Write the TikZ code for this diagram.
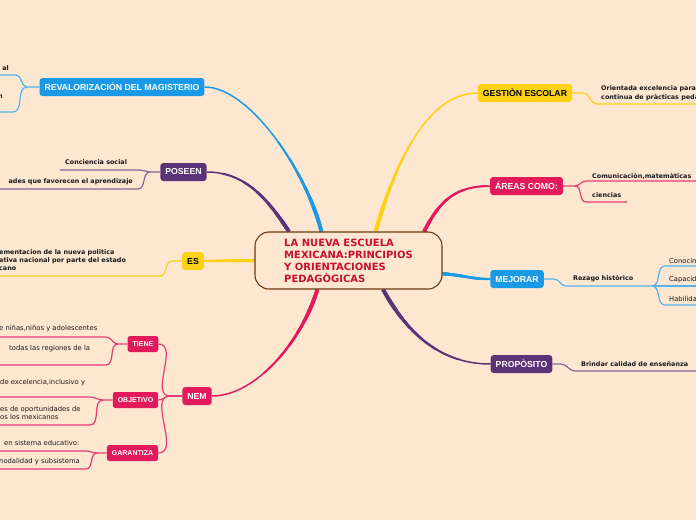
\documentclass[tikz,border=0pt]{standalone}
\usepackage{fontspec}
\usepackage{xcolor}
\usepackage{tikz}
\usetikzlibrary{positioning,backgrounds}
\newfontfamily\arialf{Liberation Sans}
\newfontfamily\verdf{DejaVu Sans}
\definecolor{fond}{RGB}{253,231,209}
\definecolor{bleu}{RGB}{26,154,230}
\definecolor{mauve}{RGB}{92,51,121}
\definecolor{jaune}{RGB}{252,209,22}
\definecolor{framb}{RGB}{226,26,92}
\definecolor{rougec}{RGB}{200,16,46}
\definecolor{brun}{RGB}{105,58,18}
\definecolor{encre}{RGB}{25,25,25}
% les huit grosses branches, a une epaisseur donnee
\newcommand{\tiges}[1]{%
  \draw[line width=#1, bleu]  (cen.133) .. controls +(-15,-60) and +(45,0) .. (reval.east);
  \draw[line width=#1, mauve] (cen.154) .. controls +(-20,-30) and +(40,0) .. (poseen.east);
  \draw[line width=#1, jaune] (cen.180) -- (es.east);
  \draw[line width=#1, framb] (cen.223) .. controls +(-15,50) and +(45,0) .. (nem.east);
  \draw[line width=#1, jaune] (cen.47) .. controls +(20,-70) and +(-50,0) .. (gestion.west);
  \draw[line width=#1, framb] (cen.21) .. controls +(15,-30) and +(-35,0) .. (areas.west);
  \draw[line width=#1, bleu]  (cen.352) .. controls +(25,2) and +(-20,0) .. (mejorar.west);
  \draw[line width=#1, mauve] (cen.320) .. controls +(30,55) and +(-40,0) .. (proposito.west);
}

\begin{document}
\begin{tikzpicture}[x=1pt, y=-1pt,
  b/.style 2 args={rectangle, rounded corners=3pt, fill=#1, text=#2, inner xsep=5pt, inner ysep=0pt,
                   minimum height=18pt, font=\arialf\bfseries\fontsize{8.7}{10}\selectfont},
  bs/.style={rectangle, rounded corners=2.5pt, fill=framb, text=white, inner xsep=5pt, inner ysep=0pt,
             minimum height=16pt, font=\arialf\bfseries\fontsize{7}{8}\selectfont},
  tb/.style={inner sep=0pt, align=left, text=encre, font=\verdf\bfseries\fontsize{6.4}{8}\selectfont},
  tn/.style={inner sep=0pt, align=left, text=encre, font=\verdf\fontsize{6.8}{8}\selectfont},
  lk/.style={line width=1.2pt, draw=#1}]

\useasboundingbox (0,0) rectangle (696,520);
\begin{scope}[on background layer]
  \fill[fond] (0,0) rectangle (696,520);
\end{scope}
\clip (0,0) rectangle (696,520);

% noeud central
\node[draw=brun, line width=1.1pt, fill=fond, rounded corners=14pt, minimum width=187pt, minimum height=57pt,
      align=left, text=rougec, font=\verdf\bfseries\fontsize{10}{12}\selectfont] (cen) at (348.5,260.5)
  {LA NUEVA ESCUELA\\MEXICANA:PRINCIPIOS\\Y ORIENTACIONES\\PEDAGÒGICAS};

% ── branches principales ──
\node[b={bleu}{white}] (reval) at (122,87) {REVALORIZACIÓN DEL MAGISTERIO};
\node[b={mauve}{white}] (poseen) at (183.5,172) {POSEEN};
\node[b={jaune}{black}] (es) at (193,261) {ES};
\node[b={framb}{white}] (nem) at (197,396) {NEM};
\node[bs] (tiene) at (143,344) {TIENE};
\node[bs] (objetivo) at (135.5,400) {OBJETIVO};
\node[bs] (garantiza) at (132.5,453) {GARANTIZA};
\node[b={jaune}{black}] (gestion) at (525,93) {GESTIÒN ESCOLAR};
\node[b={framb}{white}] (areas) at (526.5,186) {ÁREAS COMO:};
\node[b={bleu}{white}] (mejorar) at (517,279) {MEJORAR};
\node[b={mauve}{white}] (proposito) at (521.5,364) {PROPÒSITO};

% branches effilees : plus epaisses pres du centre
\begin{scope}[on background layer]
  \tiges{1.5pt}
  \foreach \w/\rx/\ry in {1.9/170/130, 2.3/150/110, 2.7/132/94, 3.1/116/80, 3.5/102/68, 3.9/92/58} {
    \begin{scope}
      \clip (cen) ellipse [x radius=\rx, y radius=\ry];
      \tiges{\w pt}
    \end{scope}
  }
\end{scope}

% ── points de branchement et soulignes ──
\coordinate (rvb) at (27,87);  \coordinate (r1b) at (16,75);  \coordinate (r1a) at (0,75);
\coordinate (r2b) at (13,112); \coordinate (r2a) at (0,112);
\coordinate (psb) at (150,172); \coordinate (p1b) at (140,170); \coordinate (p1a) at (60,170);
\coordinate (p2b) at (138,189); \coordinate (p2a) at (0,189);
\coordinate (esb) at (172,261); \coordinate (e1b) at (160,276); \coordinate (e1a) at (0,276);
\coordinate (nmb) at (170,396);
\coordinate (tib) at (118,344); \coordinate (t1b) at (106,337); \coordinate (t1a) at (0,337);
\coordinate (t2b) at (106,365); \coordinate (t2a) at (0,365);
\coordinate (obb) at (103,400); \coordinate (o1b) at (90,397); \coordinate (o1a) at (0,397);
\coordinate (o2b) at (90,425);  \coordinate (o2a) at (0,425);
\coordinate (gab) at (97,453);  \coordinate (g1b) at (86,451); \coordinate (g1a) at (0,451);
\coordinate (g2b) at (86,469);  \coordinate (g2a) at (0,469);
\coordinate (geb) at (583,93);  \coordinate (ge1b) at (597,104); \coordinate (ge1a) at (696,104);
\coordinate (arb) at (575,186); \coordinate (a1b) at (586,181); \coordinate (a1a) at (696,181);
\coordinate (a2b) at (586,202); \coordinate (a2a) at (627,202);
\coordinate (mjb) at (554,279); \coordinate (m1b) at (566,286); \coordinate (m1a) at (652,286);
\coordinate (k1b) at (665,266); \coordinate (k1a) at (696,266); \coordinate (k2a) at (696,286);
\coordinate (k3b) at (665,305); \coordinate (k3a) at (696,305);
\coordinate (prb) at (561,364); \coordinate (pr1b) at (575,371); \coordinate (pr1a) at (696,371);

% ── gauche ──
\draw[lk=bleu!75] (reval.west) -- (rvb) to[out=180,in=0] (r1b) -- (r1a);
\draw[lk=bleu!75] (rvb) to[out=180,in=0] (r2b) -- (r2a);
\node[tb, anchor=east] (r1) at (9,68) {al};
\node[tb, anchor=east] (r2) at (3,97) {n};

\draw[lk=mauve!75] (poseen.west) -- (psb) to[out=180,in=0] (p1b) -- (p1a);
\draw[lk=mauve!75] (psb) to[out=180,in=0] (p2b) -- (p2a);
\node[tb, anchor=west] (p1) at (65,162) {Conciencia social};
\node[tb, anchor=east] (p2) at (133,182) {ades que favorecen el aprendizaje};

\draw[lk=jaune] (es.west) -- (esb) to[out=180,in=0] (e1b) -- (e1a);
\node[tb, anchor=north west] (e1) at (-1,249)
  {ementacion de la nueva politica\\ativa nacional por parte del estado\\cano};

\draw[lk=framb!85] (nem.west) -- (nmb);
\draw[lk=framb!85] (nmb) to[out=180,in=0] (tiene.east);
\draw[lk=framb!85] (nmb) to[out=180,in=0] (objetivo.east);
\draw[lk=framb!85] (nmb) to[out=180,in=0] (garantiza.east);

\draw[lk=framb!85] (tiene.west) -- (tib) to[out=180,in=0] (t1b) -- (t1a);
\draw[lk=framb!85] (tib) to[out=180,in=0] (t2b) -- (t2a);
\node[tn, anchor=west] (t1) at (-1,329) {e niñas,niños y adolescentes};
\node[tn, anchor=west] (t2) at (9,349) {todas las regiones de la};

\draw[lk=framb!85] (objetivo.west) -- (obb) to[out=180,in=0] (o1b) -- (o1a);
\draw[lk=framb!85] (obb) to[out=180,in=0] (o2b) -- (o2a);
\node[tn, anchor=west] (o1) at (0,383) {de excelencia,inclusivo y};
\node[tn, anchor=north west] (o2) at (0,406) {es de oportunidades de\\os los mexicanos};

\draw[lk=framb!85] (garantiza.west) -- (gab) to[out=180,in=0] (g1b) -- (g1a);
\draw[lk=framb!85] (gab) to[out=180,in=0] (g2b) -- (g2a);
\node[tn, anchor=west] (g1) at (4,443) {en sistema educativo:};
\node[tn, anchor=west] (g2) at (-1,462) {nodalidad y subsistema};

% ── droite ──
\draw[lk=jaune] (gestion.east) -- (geb) to[out=0,in=180] (ge1b) -- (ge1a);
\node[tb, anchor=north west, font=\verdf\bfseries\fontsize{6.4}{9}\selectfont] (ge1) at (601,85)
  {Orientada excelencia para\\continua de pràcticas pedagógicas};

\draw[lk=framb!85] (areas.east) -- (arb) to[out=0,in=180] (a1b) -- (a1a);
\draw[lk=framb!85] (arb) to[out=0,in=180] (a2b) -- (a2a);
\node[tb, anchor=west] (a1) at (592,176) {Comunicaciòn,matemàticas};
\node[tb, anchor=west] (a2) at (592,195) {ciencias};

\draw[lk=bleu!75] (mejorar.east) -- (mjb) to[out=0,in=180] (m1b) -- (m1a);
\node[tb, anchor=west] (m1) at (573,279) {Rezago històrico};
\draw[lk=bleu!75] (m1a) to[out=0,in=180] (k1b) -- (k1a);
\draw[lk=bleu!75] (m1a) -- (k2a);
\draw[lk=bleu!75] (m1a) to[out=0,in=180] (k3b) -- (k3a);
\node[tn, anchor=west] (k1) at (669,261) {Conocimientos};
\node[tn, anchor=west] (k2) at (669,280) {Capacidades};
\node[tn, anchor=west] (k3) at (669,299) {Habilidades};

\draw[lk=mauve!75] (proposito.east) -- (prb) to[out=0,in=180] (pr1b) -- (pr1a);
\node[tb, anchor=west] (pr1) at (581,364) {Brindar calidad de enseñanza};

\end{tikzpicture}
\end{document}
